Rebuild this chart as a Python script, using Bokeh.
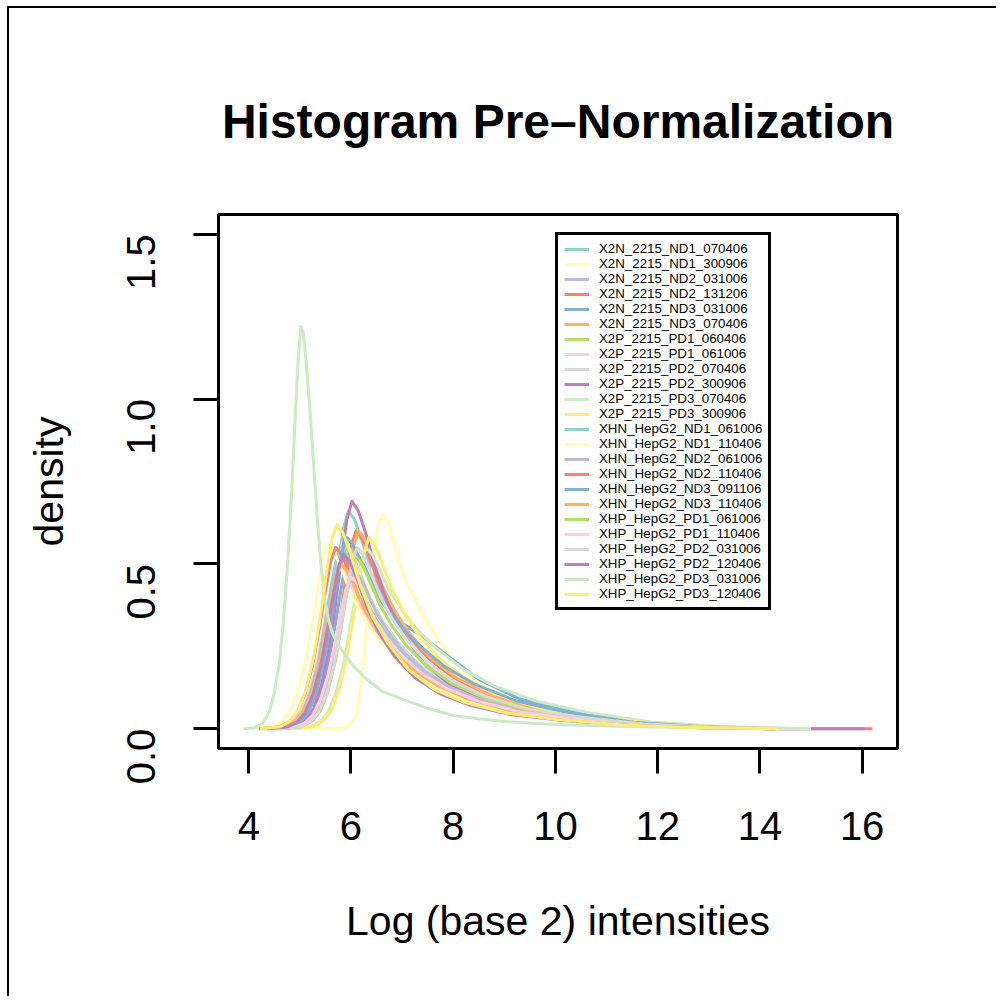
import math
from bokeh.plotting import figure
from bokeh.models import Range1d, FixedTicker, NumeralTickFormatter
from bokeh.embed import file_html
from bokeh.resources import INLINE

TITLE = "Histogram Pre–Normalization"
X_LABEL = "Log (base 2) intensities"
Y_LABEL = "density"

SAMPLES = [
    "X2N_2215_ND1_070406", "X2N_2215_ND1_300906", "X2N_2215_ND2_031006",
    "X2N_2215_ND2_131206", "X2N_2215_ND3_031006", "X2N_2215_ND3_070406",
    "X2P_2215_PD1_060406", "X2P_2215_PD1_061006", "X2P_2215_PD2_070406",
    "X2P_2215_PD2_300906", "X2P_2215_PD3_070406", "X2P_2215_PD3_300906",
    "XHN_HepG2_ND1_061006", "XHN_HepG2_ND1_110406", "XHN_HepG2_ND2_061006",
    "XHN_HepG2_ND2_110406", "XHN_HepG2_ND3_091106", "XHN_HepG2_ND3_110406",
    "XHP_HepG2_PD1_061006", "XHP_HepG2_PD1_110406", "XHP_HepG2_PD2_031006",
    "XHP_HepG2_PD2_120406", "XHP_HepG2_PD3_031006", "XHP_HepG2_PD3_120406",
]

SET3 = ["#8DD3C7", "#FFFFB3", "#BEBADA", "#FB8072", "#80B1D3", "#FDB462",
        "#B3DE69", "#FCCDE5", "#D9D9D9", "#BC80BD", "#CCEBC5", "#FFED6F"]
COLORS = SET3 + SET3

# density curves: x knots and y knots per sample
X_KNOTS = [
    [4.45, 4.85, 5.05, 5.2, 5.35, 5.5, 5.63, 5.75, 5.85, 5.95, 6.07, 6.22, 6.4, 6.65, 6.95, 7.35, 7.85, 8.45, 9.25, 10.25, 11.55, 12.95, 14.3],
    [4.2, 5.8, 5.95, 6.05, 6.13, 6.2, 6.27, 6.34, 6.41, 6.48, 6.55, 6.62, 6.69, 6.77, 6.86, 6.97, 7.1, 7.28, 7.5, 7.75, 8.05, 8.4, 8.8, 9.3, 10.0, 11.0, 12.0, 13.2, 14.3],
    [4.35, 4.75, 4.95, 5.1, 5.25, 5.4, 5.53, 5.65, 5.75, 5.85, 5.97, 6.12, 6.3, 6.55, 6.85, 7.25, 7.75, 8.35, 9.15, 10.15, 11.45, 12.85, 14.3],
    [4.6, 5.0, 5.2, 5.35, 5.5, 5.65, 5.78, 5.9, 6.0, 6.1, 6.22, 6.37, 6.55, 6.8, 7.1, 7.5, 8.0, 8.6, 9.4, 10.4, 11.7, 13.1, 14.5, 16.2],
    [4.5, 4.9, 5.1, 5.25, 5.4, 5.55, 5.68, 5.8, 5.9, 6.0, 6.12, 6.27, 6.45, 6.7, 7.0, 7.4, 7.9, 8.5, 9.3, 10.3, 11.6, 13.0, 14.3],
    [4.65, 5.05, 5.25, 5.4, 5.55, 5.7, 5.83, 5.95, 6.05, 6.15, 6.27, 6.42, 6.6, 6.85, 7.15, 7.55, 8.05, 8.65, 9.45, 10.45, 11.75, 13.15, 14.3],
    [4.4, 4.8, 5.0, 5.15, 5.3, 5.45, 5.58, 5.7, 5.8, 5.9, 6.02, 6.17, 6.35, 6.6, 6.9, 7.3, 7.8, 8.4, 9.2, 10.2, 11.5, 12.9, 14.3],
    [4.25, 4.65, 4.85, 5.0, 5.15, 5.3, 5.43, 5.55, 5.65, 5.75, 5.87, 6.02, 6.2, 6.45, 6.75, 7.15, 7.65, 8.25, 9.05, 10.05, 11.35, 12.75, 14.3],
    [4.35, 4.75, 4.95, 5.1, 5.25, 5.4, 5.53, 5.65, 5.75, 5.85, 5.97, 6.12, 6.3, 6.55, 6.85, 7.25, 7.75, 8.35, 9.15, 10.15, 11.45, 12.85, 14.3],
    [4.52, 4.92, 5.12, 5.27, 5.42, 5.57, 5.7, 5.82, 5.92, 6.02, 6.14, 6.29, 6.47, 6.72, 7.02, 7.42, 7.92, 8.52, 9.32, 10.32, 11.62, 13.02, 14.5, 16.05],
    [4.8, 5.2, 5.4, 5.55, 5.7, 5.85, 5.98, 6.1, 6.2, 6.3, 6.42, 6.57, 6.75, 7.0, 7.3, 7.7, 8.2, 8.8, 9.6, 10.6, 11.9, 13.3, 15.0],
    [4.85, 5.25, 5.45, 5.6, 5.75, 5.9, 6.03, 6.15, 6.25, 6.35, 6.47, 6.62, 6.8, 7.05, 7.35, 7.75, 8.25, 8.85, 9.65, 10.65, 11.95, 13.35, 14.35],
    [4.3, 4.7, 4.9, 5.05, 5.2, 5.35, 5.48, 5.6, 5.7, 5.8, 5.92, 6.07, 6.25, 6.5, 6.8, 7.2, 7.7, 8.3, 9.1, 10.1, 11.4, 12.8, 14.3],
    [4.05, 4.45, 4.65, 4.8, 4.95, 5.1, 5.23, 5.35, 5.45, 5.55, 5.67, 5.82, 6.0, 6.25, 6.55, 6.95, 7.45, 8.05, 8.85, 9.85, 11.15, 12.55, 14.3],
    [4.55, 4.95, 5.15, 5.3, 5.45, 5.6, 5.73, 5.85, 5.95, 6.05, 6.17, 6.32, 6.5, 6.75, 7.05, 7.45, 7.95, 8.55, 9.35, 10.35, 11.65, 13.05, 14.3],
    [4.2, 4.6, 4.8, 4.95, 5.1, 5.25, 5.38, 5.5, 5.6, 5.7, 5.82, 5.97, 6.15, 6.4, 6.7, 7.1, 7.6, 8.2, 9.0, 10.0, 11.3, 12.7, 14.3],
    [4.42, 4.82, 5.02, 5.17, 5.32, 5.47, 5.6, 5.72, 5.82, 5.92, 6.04, 6.19, 6.37, 6.62, 6.92, 7.32, 7.82, 8.42, 9.22, 10.22, 11.52, 12.92, 14.3],
    [4.3, 4.7, 4.9, 5.05, 5.2, 5.35, 5.48, 5.6, 5.7, 5.8, 5.92, 6.07, 6.25, 6.5, 6.8, 7.2, 7.7, 8.3, 9.1, 10.1, 11.4, 12.8, 14.3],
    [4.6, 5.0, 5.2, 5.35, 5.5, 5.65, 5.78, 5.9, 6.0, 6.1, 6.22, 6.37, 6.55, 6.8, 7.1, 7.5, 8.0, 8.6, 9.4, 10.4, 11.7, 13.1, 14.3],
    [4.5, 4.9, 5.1, 5.25, 5.4, 5.55, 5.68, 5.8, 5.9, 6.0, 6.12, 6.27, 6.45, 6.7, 7.0, 7.4, 7.9, 8.5, 9.3, 10.3, 11.6, 13.0, 14.3],
    [4.62, 5.02, 5.22, 5.37, 5.52, 5.67, 5.8, 5.92, 6.02, 6.12, 6.24, 6.39, 6.57, 6.82, 7.12, 7.52, 8.02, 8.62, 9.42, 10.42, 11.72, 13.12, 14.3],
    [4.35, 4.75, 4.95, 5.1, 5.25, 5.4, 5.53, 5.65, 5.75, 5.85, 5.97, 6.12, 6.3, 6.55, 6.85, 7.25, 7.75, 8.35, 9.15, 10.15, 11.45, 12.85, 14.3],
    [3.9, 4.1, 4.27, 4.4, 4.5, 4.6, 4.68, 4.76, 4.84, 4.91, 4.97, 5.02, 5.07, 5.13, 5.2, 5.27, 5.34, 5.41, 5.48, 5.56, 5.65, 5.75, 5.88, 6.05, 6.3, 6.6, 7.0, 7.5, 8.0, 8.5, 9.0, 10.0, 11.0, 12.0, 13.5, 15.0],
    [4.22, 4.62, 4.82, 4.97, 5.12, 5.27, 5.4, 5.52, 5.62, 5.72, 5.84, 5.99, 6.17, 6.42, 6.72, 7.12, 7.62, 8.22, 9.02, 10.02, 11.32, 12.72, 14.35],
]

Y_KNOTS = [
    [0, .007, .026, .059, .125, .231, .363, .502, .607, .66, .634, .568, .482, .396, .317, .238, .172, .119, .073, .043, .017, .005, 0],
    [0, 0, .008, .025, .06, .14, .25, .37, .48, .57, .625, .65, .64, .60, .55, .49, .44, .385, .32, .26, .20, .145, .105, .075, .047, .024, .012, .004, 0],
    [0, .005, .021, .047, .099, .182, .286, .395, .478, .52, .499, .447, .380, .312, .250, .187, .135, .094, .057, .034, .013, .004, 0],
    [0, .006, .024, .054, .114, .21, .33, .456, .552, .60, .576, .516, .438, .36, .288, .216, .156, .108, .066, .039, .015, .005, 0, 0],
    [0, .006, .022, .050, .105, .193, .303, .418, .506, .55, .53, .49, .43, .37, .32, .28, .22, .15, .09, .055, .022, .007, 0],
    [0, .006, .024, .054, .114, .21, .33, .456, .552, .60, .576, .516, .438, .36, .288, .216, .156, .108, .066, .039, .015, .005, 0],
    [0, .006, .022, .050, .105, .193, .303, .418, .506, .55, .528, .473, .402, .33, .264, .198, .143, .099, .061, .036, .014, .004, 0],
    [0, .005, .02, .045, .095, .175, .275, .38, .46, .50, .48, .43, .365, .30, .24, .18, .13, .09, .055, .033, .013, .004, 0],
    [0, .006, .023, .051, .108, .20, .314, .433, .524, .57, .547, .49, .416, .342, .274, .205, .148, .103, .063, .037, .014, .005, 0],
    [0, .007, .028, .062, .131, .242, .38, .524, .635, .69, .662, .593, .49, .38, .29, .20, .135, .09, .055, .032, .012, .004, 0, 0],
    [0, .006, .022, .050, .105, .193, .303, .418, .506, .55, .528, .48, .42, .36, .30, .24, .18, .13, .085, .05, .02, .007, 0],
    [0, .006, .023, .052, .110, .203, .319, .441, .534, .58, .557, .499, .423, .348, .278, .209, .151, .104, .064, .038, .015, .005, 0],
    [0, .006, .022, .050, .105, .193, .303, .418, .506, .55, .528, .473, .402, .33, .264, .198, .143, .099, .061, .036, .014, .004, 0],
    [0, .006, .022, .050, .106, .196, .308, .426, .515, .56, .538, .482, .409, .336, .269, .202, .146, .101, .062, .036, .014, .004, 0],
    [0, .005, .019, .043, .091, .168, .264, .365, .442, .48, .461, .413, .350, .288, .230, .173, .125, .086, .053, .031, .012, .004, 0],
    [0, .006, .022, .050, .105, .193, .303, .418, .506, .55, .528, .473, .402, .33, .264, .198, .143, .099, .061, .036, .014, .004, 0],
    [0, .006, .023, .052, .110, .203, .319, .441, .534, .58, .557, .51, .45, .38, .32, .255, .19, .135, .085, .05, .02, .006, 0],
    [0, .005, .02, .045, .095, .175, .275, .38, .46, .50, .48, .43, .365, .30, .24, .18, .13, .09, .055, .033, .013, .004, 0],
    [0, .005, .021, .047, .099, .182, .286, .395, .478, .52, .499, .447, .380, .312, .250, .187, .135, .094, .057, .034, .013, .004, 0],
    [0, .005, .018, .041, .087, .161, .253, .350, .423, .46, .442, .396, .336, .276, .221, .166, .120, .083, .051, .030, .012, .004, 0],
    [0, .006, .022, .050, .105, .193, .303, .418, .506, .55, .528, .473, .402, .33, .264, .198, .143, .099, .061, .036, .014, .004, 0],
    [0, .005, .021, .048, .101, .186, .292, .403, .488, .53, .509, .456, .375, .29, .22, .155, .105, .07, .042, .025, .01, .003, 0],
    [0, .002, .015, .05, .11, .2, .33, .5, .72, .95, 1.13, 1.22, 1.2, 1.1, .96, .8, .64, .5, .4, .33, .285, .255, .225, .19, .15, .115, .09, .062, .04, .03, .022, .013, .008, .005, .002, 0],
    [0, .006, .025, .056, .118, .217, .341, .471, .570, .62, .595, .533, .44, .34, .26, .18, .12, .08, .048, .028, .011, .003, 0],
]

X_TICKS = [4, 6, 8, 10, 12, 14, 16]
Y_TICKS = [0.0, 0.5, 1.0, 1.5]
X_LIMITS = (3.408, 16.692)
Y_LIMITS = (-0.06, 1.56)

FONT = "Liberation Sans"

p = figure(
    width=989, height=990,
    output_backend="svg", toolbar_location=None,
    x_range=Range1d(*X_LIMITS), y_range=Range1d(*Y_LIMITS),
    min_border_left=209, min_border_right=101,
    min_border_top=206, min_border_bottom=250,
    title=TITLE,
)
p.styles = {"border-left": "2px solid #000", "border-top": "2px solid #000",
            "margin-left": "7px", "margin-top": "6px"}
p.background_fill_color = "white"
p.border_fill_color = "white"
p.outline_line_color = "black"
p.outline_line_width = 3
p.grid.visible = False

p.title.text_font = FONT
p.title.text_font_size = "48px"
p.title.text_font_style = "bold"
p.title.align = "center"
p.title.text_color = "black"
p.title.standoff = 134

for name, col, xs, ys in zip(SAMPLES, COLORS, X_KNOTS, Y_KNOTS):
    p.line(xs, ys, line_color=col, line_width=3, line_join="round", legend_label=name)

for ax in (p.xaxis[0], p.yaxis[0]):
    ax.axis_line_color = None
    ax.major_tick_in = 0
    ax.major_tick_out = 25
    ax.major_tick_line_width = 3
    ax.major_tick_line_color = "black"
    ax.minor_tick_line_color = None
    ax.major_label_text_font = FONT
    ax.major_label_text_font_size = "40px"
    ax.major_label_text_color = "black"
    ax.axis_label_text_font = FONT
    ax.axis_label_text_font_size = "41px"
    ax.axis_label_text_font_style = "normal"
    ax.axis_label_text_color = "black"

p.xaxis[0].ticker = FixedTicker(ticks=X_TICKS)
p.yaxis[0].ticker = FixedTicker(ticks=Y_TICKS)
p.yaxis[0].formatter = NumeralTickFormatter(format="0.0")
p.xaxis[0].axis_label = X_LABEL
p.yaxis[0].axis_label = Y_LABEL
p.xaxis[0].major_label_standoff = 38
p.xaxis[0].axis_label_standoff = 55
p.yaxis[0].major_label_orientation = math.pi / 2
p.yaxis[0].major_label_standoff = 52
p.yaxis[0].axis_label_standoff = 39

lg = p.legend[0]
lg.location = (337, 138)
lg.margin = 0
lg.padding = 6
lg.spacing = -1
lg.border_line_color = "black"
lg.border_line_alpha = 1
lg.border_line_width = 3
lg.background_fill_color = "white"
lg.background_fill_alpha = 1
lg.label_text_font = FONT
lg.label_text_font_size = "13.3px"
lg.label_text_color = "black"
lg.label_height = 14
lg.glyph_height = 14
lg.glyph_width = 25
lg.label_standoff = 10

open("out.html", "w").write(file_html(p, INLINE))
